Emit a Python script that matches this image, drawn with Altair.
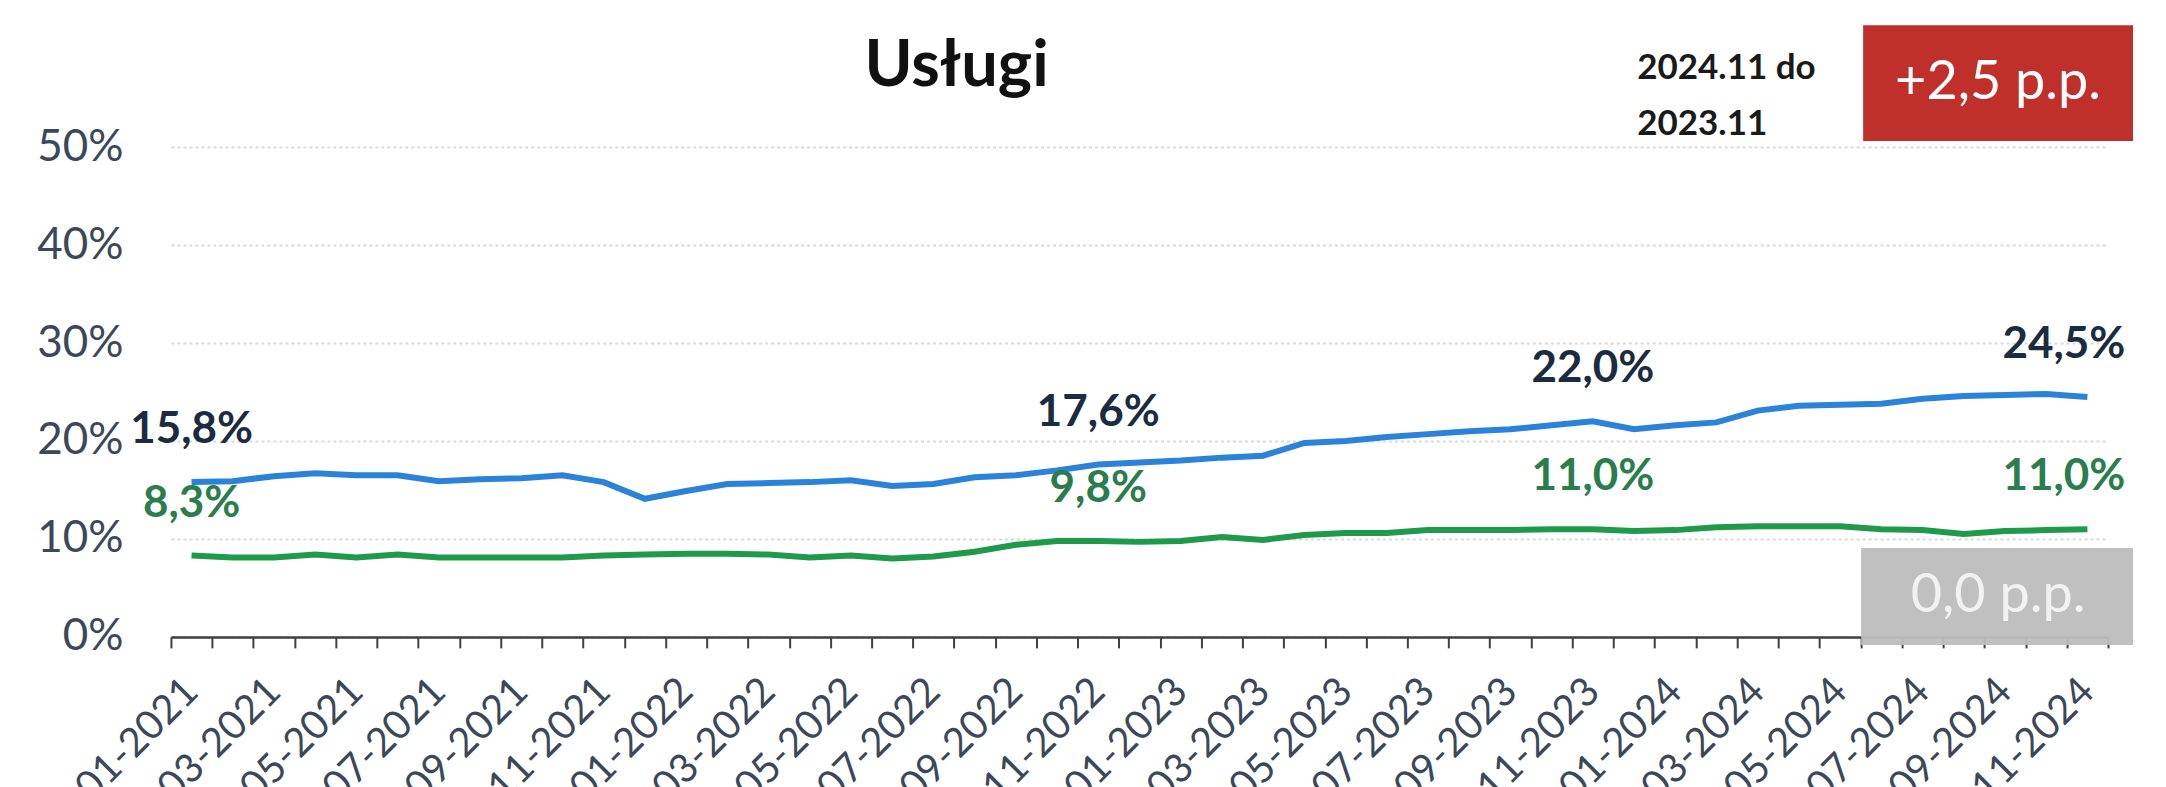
import altair as alt
import pandas as pd

months = [
    "01-2021", "02-2021", "03-2021", "04-2021", "05-2021", "06-2021", "07-2021", "08-2021",
    "09-2021", "10-2021", "11-2021", "12-2021",
    "01-2022", "02-2022", "03-2022", "04-2022", "05-2022", "06-2022", "07-2022", "08-2022",
    "09-2022", "10-2022", "11-2022", "12-2022",
    "01-2023", "02-2023", "03-2023", "04-2023", "05-2023", "06-2023", "07-2023", "08-2023",
    "09-2023", "10-2023", "11-2023", "12-2023",
    "01-2024", "02-2024", "03-2024", "04-2024", "05-2024", "06-2024", "07-2024", "08-2024",
    "09-2024", "10-2024", "11-2024",
]

blue_values = [15.8, 15.9, 16.4, 16.7, 16.5, 16.5, 15.9, 16.1, 16.2, 16.5, 15.8, 14.1,
               14.9, 15.6, 15.7, 15.8, 16.0, 15.4, 15.6, 16.3, 16.5, 17.0, 17.6,
               17.8, 18.0, 18.3, 18.5, 19.8, 20.0, 20.4, 20.7, 21.0, 21.2, 21.6, 22.0,
               21.2, 21.6, 21.9, 23.1, 23.6, 23.7, 23.8, 24.3, 24.6, 24.7, 24.8, 24.5]

green_values = [8.3, 8.1, 8.1, 8.4, 8.1, 8.4, 8.1, 8.1, 8.1, 8.1, 8.3, 8.4,
                8.5, 8.5, 8.4, 8.1, 8.3, 8.0, 8.2, 8.7, 9.4, 9.8, 9.8,
                9.7, 9.8, 10.2, 9.9, 10.4, 10.6, 10.6, 10.9, 10.9, 10.9, 11.0, 11.0,
                10.8, 10.9, 11.2, 11.3, 11.3, 11.3, 11.0, 10.9, 10.5, 10.8, 10.9, 11.0]

series_names = ["A", "B"]
line_colors = ["#2b83d9", "#1f9a4b"]
label_colors = ["#1c2c40", "#2a7d4c"]
labeled_months = ["01-2021", "11-2022", "11-2023"]
last_month = "11-2024"

title_text = "Usługi"
period_text = "2024.11 do\n2023.11"
red_box_text = "+2,5 p.p."
gray_box_text = "0,0 p.p."

FONT = "Lato"
W, H = 1938, 490

rows = []
for name, vals in zip(series_names, [blue_values, green_values]):
    for m, v in zip(months, vals):
        rows.append({"month": m, "series": name, "value": v,
                     "label": f"{v:.1f}".replace(".", ",") + "%"})
df = pd.DataFrame(rows)

xenc = alt.X(
    "month:O", sort=months, bandPosition=0.5,
    scale=alt.Scale(type="band", paddingInner=0, paddingOuter=0),
    axis=alt.Axis(
        title=None, grid=False, tickBand="extent",
        labelAngle=-45, labelAlign="right", labelBaseline="middle",
        labelFontSize=40, labelFont=FONT, labelColor="#3c4858",
        labelPadding=37, labelOverlap=False, labelBound=False, labelFlush=False,
        labelLimit=400,
        labelExpr="parseInt(substring(datum.label,0,2)) % 2 == 1 ? datum.label : ''",
        domainColor="#404040", domainWidth=2.5,
        tickColor="#404040", tickWidth=2, tickSize=11,
    ),
)
yenc = alt.Y(
    "value:Q",
    scale=alt.Scale(domain=[0, 50], nice=False, zero=True),
    axis=alt.Axis(
        title=None, values=[0, 10, 20, 30, 40, 50], labelExpr="datum.value + '%'",
        labelFontSize=44, labelFont=FONT, labelColor="#3c4858", labelPadding=48,
        ticks=False, domain=False, grid=True, gridColor="#dadada",
        gridDash=[3, 3], gridWidth=2,
    ),
)

lines = alt.Chart(df).mark_line(strokeWidth=6).encode(
    x=xenc, y=yenc,
    color=alt.Color("series:N", scale=alt.Scale(domain=series_names, range=line_colors), legend=None),
)

text_layers = []
for name, lc in zip(series_names, label_colors):
    mid = df[(df.series == name) & (df.month.isin(labeled_months))]
    last = df[(df.series == name) & (df.month == last_month)]
    text_layers.append(
        alt.Chart(mid).mark_text(font=FONT, fontSize=44, fontWeight="bold", color=lc,
                                 dy=-52, align="center", baseline="middle")
        .encode(x=xenc, y=yenc, text="label:N")
    )
    text_layers.append(
        alt.Chart(last).mark_text(font=FONT, fontSize=44, fontWeight="bold", color=lc,
                                  dy=-52, dx=38, align="right", baseline="middle")
        .encode(x=xenc, y=yenc, text="label:N")
    )

one = pd.DataFrame({"k": [0]})
title = alt.Chart(one).mark_text(font=FONT, fontSize=65, fontWeight="bold", color="#111111",
                                 align="center", baseline="alphabetic").encode(
    x=alt.value(786), y=alt.value(-61), text=alt.value(title_text))
red_box = alt.Chart(one).mark_rect(color="#c0302b").encode(
    x=alt.value(1693), x2=alt.value(1963), y=alt.value(-122), y2=alt.value(-6))
red_text = alt.Chart(one).mark_text(font=FONT, fontSize=54, color="white",
                                    align="center", baseline="middle").encode(
    x=alt.value(1828), y=alt.value(-64), text=alt.value(red_box_text))
gray_box = alt.Chart(one).mark_rect(color="#bdbdbd", opacity=0.95).encode(
    x=alt.value(1691), x2=alt.value(1963), y=alt.value(401), y2=alt.value(498))
gray_text = alt.Chart(one).mark_text(font=FONT, fontSize=54, color="#f2f2f2",
                                     align="center", baseline="middle").encode(
    x=alt.value(1828), y=alt.value(449), text=alt.value(gray_box_text))
period = alt.Chart(one).mark_text(font=FONT, fontSize=35, fontWeight="bold", color="#1a1a1a",
                                  align="left", baseline="alphabetic", lineBreak="\n",
                                  lineHeight=56).encode(
    x=alt.value(1467), y=alt.value(-68), text=alt.value(period_text))

chart = alt.layer(lines, *text_layers, title, red_box, red_text, gray_box, gray_text, period).properties(
    width=W, height=H,
    background="white",
    autosize=alt.AutoSizeParams(type="none"),
    padding={"left": 163, "top": 139, "right": 50, "bottom": 150},
).configure_view(strokeWidth=0)

chart.save("out.html", embed_options={"renderer": "svg", "actions": False})
